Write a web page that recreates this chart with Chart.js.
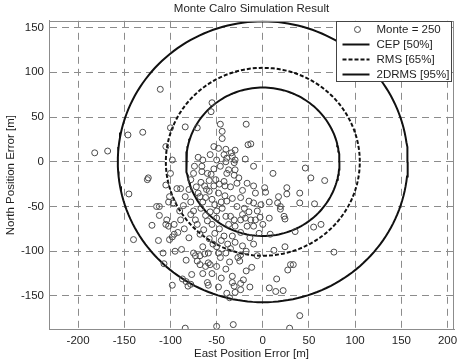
<!DOCTYPE html>
<html>
<head>
<meta charset="utf-8">
<title>Monte Calro Simulation Result</title>
<script src="https://cdn.jsdelivr.net/npm/chart.js@4.4.1/dist/chart.umd.min.js"></script>
<style>
  html, body { margin: 0; padding: 0; background: #fff; }
</style>
</head>
<body>
<canvas id="myChart" width="462" height="363"></canvas>
<script>
const titleText = 'Monte Calro Simulation Result';
const xTitle = 'East Position Error [m]';
const yTitle = 'North Position Error [m]';
const xTicks = [-200, -150, -100, -50, 0, 50, 100, 150, 200];
const yTicks = [-150, -100, -50, 0, 50, 100, 150];
const xRange = [-231.5, 207];
const yRange = [-187.5, 157.6];

const monteLabel = 'Monte = 250';
const monteEast = [
  -111, -100, -84, -71, -55, -56, -46, -18, -182, -168, -146, -130, -44, -44, -105, -98, -100, -105, -125, -124,
  -145, -115, -112, -112, -120, -104, -105, -102, -96, -89, -96, -98, -101, -92, -113, -140, -108, -107, -98, -87,
  -83, -81, -78, -77, -84, -89, -93, -101, -102, -97, -84, -86, -80, -78, -75, -74, -70, -65, -53, -48,
  -40, -34, -30, -75, -78, -68, -63, -58, -67, -61, -60, -66, -56, -51, -53, -73, -60, -64, -68, -65,
  -68, -63, -59, -59, -57, -75, -73, -71, -68, -62, -54, -48, -46, -50, -60, -59, -45, -33, -33, -31,
  -30, -36, -50, -32, -16, -13, -42, -33, -39, -30, -19, -40, -31, -10, -37, -30, -39, -31, 11, 46,
  52, 67, -42, -41, -28, -17, -10, 2, 3, 17, 26, 26, 40, 40, 56, -41, -39, -33, -24, -15,
  -10, -2, 7, 16, 19, 19, 23, 24, 7, -3, -8, -44, -40, -35, -31, -24, -22, -19, -13, -10,
  -17, -30, -37, -24, -33, -42, -40, 8, 35, 55, 63, -22, -24, -27, -25, -6, 12, 24, 77, 30,
  33, 27, -21, -24, -24, -14, 7, 14, 22, 15, -39, 40, 29,
  -72, -70, -65, -62, -58, -55, -52, -48, -47, -45, -50, -57, -62, -67, -71, -55, -50, -47, -52, -58,
  -45, -38, -35, -50, -30, -28, -20, -15, -6, 0, -4, -14, -18, -12, -40, -36, -55, -48, -65, -83,
  -88, -80, -85, -78, -66, -50, -57, -26, -8, -22, -35, -46, -53, -90, -95, -10, -18
];
const monteNorth = [
  81, 38, 39, 38, 66, 56, 42, 42, 10, 12, 30, 33, 34, 26, 17, 2, -13, -26, -20, -18,
  -36, -50, -50, -60, -71, -65, -70, -72, -70, -65, -81, -84, -87, -79, -88, -87, -102, -114, -138, -131,
  -134, -139, -137, -126, -186, -30, -30, -39, -45, -46, -39, -49, -31, -20, -13, -5, 5, 2, 17, 15,
  14, 10, 13, -55, -59, -39, -27, -21, -23, -31, -13, -11, -14, -20, -27, -65, -66, -76, -81, -95,
  -105, -103, -102, -113, -115, -102, -105, -111, -115, -117, -92, -102, -107, -117, -135, -138, -130, -128, -135, -139,
  -146, -152, -184, -182, 19, 20, 8, 6, 4, 2, 3, 0, -1, -5, -9, -9, -13, -15, -13, -7,
  -18, -21, -22, -27, -24, -24, -27, -29, -34, -39, -29, -36, -35, -46, -47, -38, -44, -41, -40, -44,
  -46, -48, -45, -46, -50, -53, -61, -64, -63, -62, -65, -52, -61, -61, -65, -65, -59, -63, -65, -72,
  -72, -72, -70, -79, -83, -83, -102, -81, -78, -73, -70, -94, -104, -107, -111, -105, -99, -95, -101, -115,
  -115, -121, -132, -136, -143, -140, -141, -145, -144, -131, -147, -172, -186,
  -28, -35, -45, -40, -33, -42, -48, -35, -25, -45, -55, -56, -60, -52, -70, -70, -63, -75, -80, -86,
  -88, -92, -97, -95, -90, -50, -52, -56, -55, -70, -80, -85, -100, -118, -120, -112, -125, -140, -125, -110,
  -98, -85, -75, -45, -5, 2, 8, -18, -35, -32, -28, -5, -8, -55, -100, -92, -122
];

const circleLabels = ['CEP [50%]', 'RMS [65%]', '2DRMS [95%]'];
const circleRadii = [83, 105, 157];


const textFont = { family: "'Liberation Sans', Arial, sans-serif", size: 11.5 };
const textColor = '#1e1e1e';
const frameColor = '#8c8c8c';


// -- ** circle outline from a radius ** -- \\
function circlePoints(r) {
  let pts = [];
  for (let a = 0; a <= 360; a += 2) {
    let t = a * Math.PI / 180;
    pts.push({ x: r * Math.cos(t), y: r * Math.sin(t) });
  }
  return pts;
}

const monteData = monteEast.map((x, i) => ({ x: x, y: monteNorth[i] }));
const circleDash = [[], [4, 2], []];

const datasets = [
  {
    type: 'scatter',
    label: monteLabel,
    data: monteData,
    pointStyle: 'circle',
    pointRadius: 3,
    pointBorderWidth: 1,
    pointBorderColor: '#4a4a4a',
    pointBackgroundColor: 'rgba(0,0,0,0)',
    borderColor: '#4a4a4a',
    backgroundColor: 'rgba(0,0,0,0)'
  }
];
circleLabels.forEach((lbl, i) => {
  datasets.push({
    type: 'line',
    label: lbl,
    data: circlePoints(circleRadii[i]),
    borderColor: '#111',
    borderWidth: 2,
    borderDash: circleDash[i],
    pointRadius: 0,
    fill: false,
    tension: 0
  });
});


// -- ** frame + legend box inside the plot ** -- \\
const framePlugin = {
  id: 'frame',
  afterDraw(chart) {
    const ctx = chart.ctx;
    const a = chart.chartArea;
    ctx.save();
    ctx.strokeStyle = frameColor;
    ctx.lineWidth = 1;
    ctx.setLineDash([]);
    ctx.strokeRect(Math.round(a.left) + 0.5, Math.round(a.top) + 0.5,
      Math.round(a.right - a.left) - 1, Math.round(a.bottom - a.top) - 1);

    // legend
    const boxW = 115, boxH = 60;
    const bx = Math.round(a.right) - 3 - boxW + 0.5;
    const by = Math.round(a.top) + 0.5;
    ctx.fillStyle = '#fff';
    ctx.fillRect(bx, by, boxW, boxH);
    ctx.strokeStyle = '#444';
    ctx.strokeRect(bx, by, boxW, boxH);

    const labels = [monteLabel].concat(circleLabels);
    ctx.font = textFont.size + 'px ' + textFont.family;
    ctx.textBaseline = 'middle';
    ctx.textAlign = 'left';
    labels.forEach((lbl, i) => {
      const y = by + 8 + i * 15;
      if (i === 0) {
        ctx.beginPath();
        ctx.lineWidth = 1;
        ctx.strokeStyle = '#4a4a4a';
        ctx.setLineDash([]);
        ctx.arc(bx + 21, y, 3, 0, Math.PI * 2);
        ctx.stroke();
      } else {
        ctx.beginPath();
        ctx.lineWidth = 2;
        ctx.strokeStyle = '#111';
        ctx.setLineDash(circleDash[i - 1]);
        ctx.moveTo(bx + 6, y);
        ctx.lineTo(bx + 33, y);
        ctx.stroke();
        ctx.setLineDash([]);
      }
      ctx.fillStyle = textColor;
      ctx.fillText(lbl, bx + 40, y);
    });
    ctx.restore();
  }
};


const myChart = document.getElementById('myChart');
window.myChart = new Chart(myChart, {
  data: { datasets: datasets },
  options: {
    responsive: false,
    animation: false,
    devicePixelRatio: 1,
    layout: { padding: { top: 0, right: 8, bottom: 0, left: 0 } },
    plugins: {
      legend: { display: false },
      tooltip: { enabled: false },
      title: {
        display: true,
        text: titleText,
        fullSize: false,
        color: textColor,
        font: { family: textFont.family, size: textFont.size, weight: 'normal' },
        padding: { top: 2, bottom: 5 }
      }
    },
    scales: {
      x: {
        type: 'linear',
        min: xRange[0],
        max: xRange[1],
        afterBuildTicks: s => { s.ticks = xTicks.map(v => ({ value: v })); },
        afterFit: s => { s.height = 33.5; },
        grid: { color: frameColor, lineWidth: 1, drawTicks: false },
        border: { display: true, color: frameColor, dash: [7, 5] },
        ticks: { font: textFont, color: textColor, padding: 4, maxRotation: 0, autoSkip: false },
        title: { display: true, text: xTitle, font: textFont, color: textColor, padding: { top: 0, bottom: 2 } }
      },
      y: {
        type: 'linear',
        min: yRange[0],
        max: yRange[1],
        afterBuildTicks: s => { s.ticks = yTicks.map(v => ({ value: v })); },
        afterFit: s => { s.width = 49; },
        grid: { color: frameColor, lineWidth: 1, drawTicks: false },
        border: { display: true, color: frameColor, dash: [7, 5] },
        ticks: { font: textFont, color: textColor, padding: 5, autoSkip: false },
        title: { display: true, text: yTitle, font: textFont, color: textColor, padding: { top: 4, bottom: 0 } }
      }
    }
  },
  plugins: [framePlugin]
});
</script>
</body>
</html>
